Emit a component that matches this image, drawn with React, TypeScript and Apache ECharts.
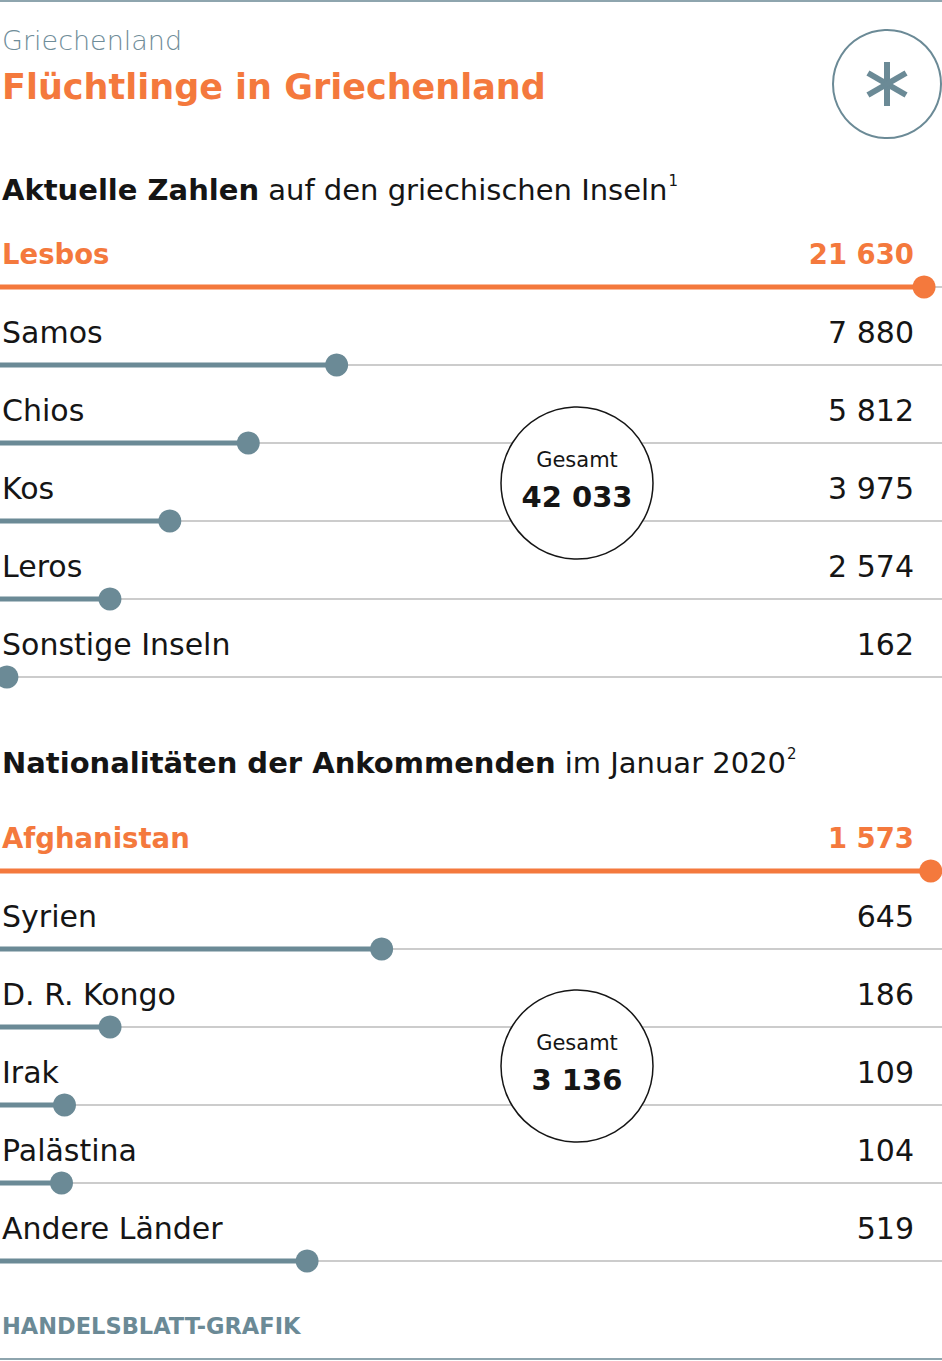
import React, { useEffect, useRef } from "react";
import * as echarts from "echarts";

const islands = ["Lesbos", "Samos", "Chios", "Kos", "Leros", "Sonstige Inseln"];
const islandValues = [21630, 7880, 5812, 3975, 2574, 162];
const nations = ["Afghanistan", "Syrien", "D. R. Kongo", "Irak", "Palästina", "Andere Länder"];
const nationValues = [1573, 645, 186, 109, 104, 519];

const ORANGE = "#f4793d";
const SLATE = "#6b8a96";
const TRACK = "#cccccc";
const INK = "#151515";
const FONT = "DejaVu Sans";

const fmt = (v: number) => String(v).replace(/\B(?=(\d{3})+(?!\d))/g, " ");
const sum = (a: number[]) => a.reduce((s, v) => s + v, 0);

function panel(gi: number, cats: string[], vals: number[], max: number) {
  const xAxis = { gridIndex: gi, type: "value", min: 0, max, show: false };
  const labelStyle = {
    inside: true,
    interval: 0,
    verticalAlign: "middle",
    padding: [0, 0, 66, 0],
    fontFamily: FONT,
    fontSize: 30,
    color: INK,
    rich: {
      hl: { color: ORANGE, fontFamily: FONT, fontSize: 27.5, fontWeight: "bold" },
      n: { color: INK, fontFamily: FONT, fontSize: 30 },
    },
    formatter: (v: string, i: number) => (i === 0 ? `{hl|${v}}` : `{n|${v}}`),
  };
  const yAxes = [
    {
      gridIndex: gi,
      type: "category",
      data: cats,
      inverse: true,
      boundaryGap: false,
      axisLine: { show: false },
      axisTick: { show: false },
      splitLine: { show: true, lineStyle: { color: TRACK, width: 2 } },
      axisLabel: { ...labelStyle, margin: 2 },
    },
    {
      gridIndex: gi,
      type: "category",
      position: "right",
      data: vals.map(fmt),
      inverse: true,
      boundaryGap: false,
      axisLine: { show: false },
      axisTick: { show: false },
      splitLine: { show: false },
      axisLabel: { ...labelStyle, margin: 28 },
    },
  ];
  const series = [
    {
      type: "bar",
      xAxisIndex: gi,
      yAxisIndex: gi * 2,
      barWidth: 5,
      z: 3,
      data: vals.map((v, i) => ({ value: v, itemStyle: { color: i === 0 ? ORANGE : SLATE } })),
    },
    {
      type: "scatter",
      xAxisIndex: gi,
      yAxisIndex: gi * 2,
      symbolSize: 23,
      z: 4,
      data: vals.map((v, i) => ({ value: [v, i], itemStyle: { color: i === 0 ? ORANGE : SLATE, opacity: 1 } })),
    },
  ];
  return { xAxis, yAxes, series };
}

export default function App() {
  const ref = useRef<HTMLDivElement>(null);
  useEffect(() => {
    if (!ref.current) return;
    const chart = echarts.init(ref.current, null, { renderer: "svg" });
    const p1 = panel(0, islands, islandValues, 22050);
    const p2 = panel(1, nations, nationValues, 1592);

    const head = (y: number, bold: string, rest: string, sup: string) => ({
      type: "text",
      x: 2,
      y,
      z: 50,
      style: {
        text: `{b|${bold}}{r| ${rest}}{s|${sup}}`,
        verticalAlign: "middle",
        rich: {
          b: { fontFamily: FONT, fontSize: 29, fontWeight: "bold", fill: INK, lineHeight: 34 },
          r: { fontFamily: FONT, fontSize: 29, fill: INK, lineHeight: 34 },
          s: { fontFamily: FONT, fontSize: 15, fill: INK, lineHeight: 34, verticalAlign: "top", padding: [0, 0, 0, 1] },
        },
      },
    });

    const totalCircle = (cy: number, total: number) => [
      { type: "circle", z: 100, shape: { cx: 577, cy, r: 76 }, style: { fill: "#fff", stroke: INK, lineWidth: 1.5 } },
      { type: "text", z: 101, x: 577, y: cy - 23, style: { text: "Gesamt", fontFamily: FONT, fontSize: 21, fill: INK, align: "center", verticalAlign: "middle" } },
      { type: "text", z: 101, x: 577, y: cy + 14, style: { text: fmt(total), fontFamily: FONT, fontSize: 29, fontWeight: "bold", fill: INK, align: "center", verticalAlign: "middle" } },
    ];

    const ax = 887, ay = 84, L = 22;
    const arm = (ang: number) => {
      const dx = Math.cos(ang) * L, dy = Math.sin(ang) * L;
      return { type: "line", z: 50, shape: { x1: ax - dx, y1: ay - dy, x2: ax + dx, y2: ay + dy }, style: { stroke: SLATE, lineWidth: 6 } };
    };

    chart.setOption({
      animation: false,
      grid: [
        { left: 0, right: 0, top: 287, height: 390, outerBoundsMode: "none", containLabel: false },
        { left: 0, right: 0, top: 871, height: 390, outerBoundsMode: "none", containLabel: false },
      ],
      xAxis: [p1.xAxis, p2.xAxis],
      yAxis: [...p1.yAxes, ...p2.yAxes],
      series: [...p1.series, ...p2.series],
      graphic: [
        { type: "line", z: 50, shape: { x1: 0, y1: 1, x2: 942, y2: 1 }, style: { stroke: "#8ea5ae", lineWidth: 2 } },
        { type: "line", z: 50, shape: { x1: 0, y1: 1359, x2: 942, y2: 1359 }, style: { stroke: "#8ea5ae", lineWidth: 2 } },
        { type: "text", x: 2, y: 40, z: 50, style: { text: "Griechenland", fontFamily: FONT, fontSize: 27, fontWeight: 300, fill: "#6f8d99", verticalAlign: "middle" } },
        { type: "text", x: 2, y: 87, z: 50, style: { text: "Flüchtlinge in Griechenland", fontFamily: FONT, fontSize: 35, fontWeight: "bold", fill: ORANGE, verticalAlign: "middle" } },
        { type: "circle", z: 50, shape: { cx: 887, cy: 84, r: 54 }, style: { fill: "none", stroke: SLATE, lineWidth: 2 } },
        arm(Math.PI / 2),
        arm(Math.PI / 6),
        arm(-Math.PI / 6),
        head(190, "Aktuelle Zahlen", "auf den griechischen Inseln", "1"),
        head(763, "Nationalitäten der Ankommenden", "im Januar 2020", "2"),
        ...totalCircle(483, sum(islandValues)),
        ...totalCircle(1066, sum(nationValues)),
        { type: "text", x: 2, y: 1326, z: 50, style: { text: "HANDELSBLATT-GRAFIK", fontFamily: FONT, fontSize: 22.5, fontWeight: "bold", fill: SLATE, verticalAlign: "middle" } },
      ],
    });
    return () => chart.dispose();
  }, []);
  return <div ref={ref} style={{ position: "absolute", left: 0, top: 0, width: 942, height: 1361 }} />;
}
